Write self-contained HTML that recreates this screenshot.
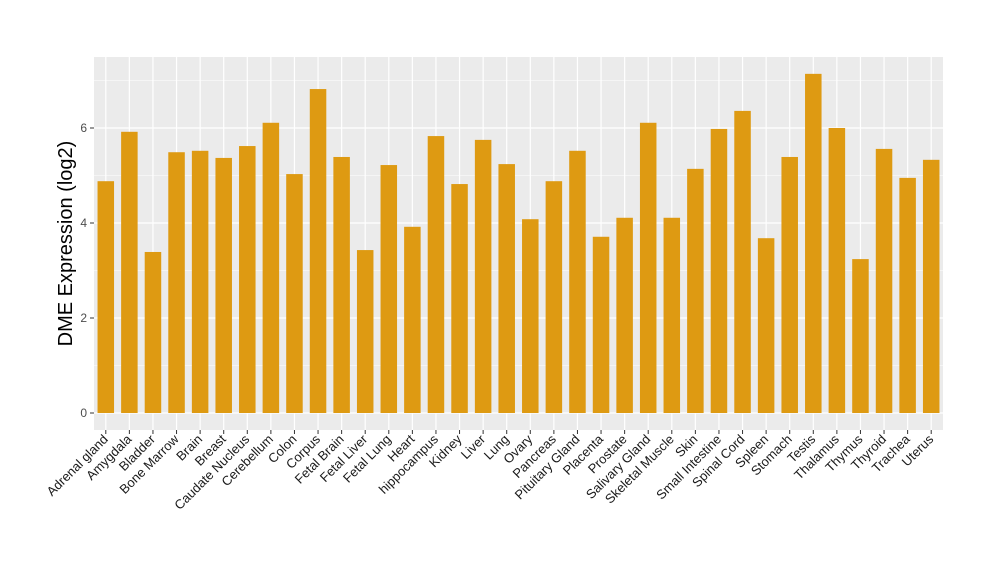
<!DOCTYPE html>
<html><head><meta charset="utf-8"><style>
body{margin:0;background:#fff;font-family:"Liberation Sans",sans-serif}
</style></head><body>
<svg id="c" width="1000" height="580" xmlns="http://www.w3.org/2000/svg"></svg>
<script>
const categories=["Adrenal gland","Amygdala","Bladder","Bone Marrow","Brain","Breast","Caudate Nucleus","Cerebellum","Colon","Corpus","Fetal Brain","Fetal Liver","Fetal Lung","Heart","hippocampus","Kidney","Liver","Lung","Ovary","Pancreas","Pituitary Gland","Placenta","Prostate","Salivary Gland","Skeletal Muscle","Skin","Small Intestine","Spinal Cord","Spleen","Stomach","Testis","Thalamus","Thymus","Thyroid","Trachea","Uterus"];
const values=[4.88,5.92,3.39,5.49,5.52,5.37,5.62,6.11,5.03,6.82,5.39,3.43,5.22,3.92,5.83,4.82,5.75,5.24,4.08,4.88,5.52,3.71,4.11,6.11,4.11,5.14,5.98,6.36,3.68,5.39,7.14,6.0,3.24,5.56,4.95,5.33];
const yTicks=[0,2,4,6];
const svg=document.getElementById('c');
const NS='http://www.w3.org/2000/svg';
const L=94,R=943,T=57,B=430;
const y=v=>413-v*47.5;
const step=(R-L)/categories.length;
const x=i=>L+step*(i+0.5);
function mk(t,a,p){const e=document.createElementNS(NS,t);for(const k in a)e.setAttribute(k,a[k]);(p||svg).appendChild(e);return e;}
const bg=mk('rect',{x:L,y:T,width:R-L,height:B-T,fill:'#EBEBEB'});


for(let v=1;v<=7;v+=2){mk('line',{x1:L,x2:R,y1:y(v),y2:y(v),stroke:'#fff','stroke-width':0.6});}
yTicks.forEach(v=>{
 mk('line',{x1:L,x2:R,y1:y(v),y2:y(v),stroke:'#fff','stroke-width':1.2});
 mk('line',{x1:L-4,x2:L,y1:y(v),y2:y(v),stroke:'#333','stroke-width':1});
 const t=mk('text',{x:L-7,y:y(v)+4,'text-anchor':'end','font-size':12,fill:'#4d4d4d'});t.textContent=v;
 
 
});
categories.forEach((c,i)=>{
 mk('line',{x1:x(i),x2:x(i),y1:T,y2:B,stroke:'#fff','stroke-width':1.2});
});
categories.forEach((c,i)=>{
 const bw=step*0.7;
 const r=mk('rect',{x:x(i)-bw/2,y:y(values[i]),width:bw,height:y(0)-y(values[i]),fill:'#DE9A12'});
 
 
 mk('line',{x1:x(i),x2:x(i),y1:B,y2:B+4,stroke:'#333','stroke-width':1});
 const t=mk('text',{x:x(i)+3,y:B+10,'text-anchor':'end','font-size':13,fill:'#1a1a1a',transform:`rotate(-45 ${x(i)+3} ${B+10})`});
 t.textContent=c;
 
 
});
const yt=mk('text',{x:72,y:(T+B)/2,'text-anchor':'middle','font-size':20,fill:'#000',transform:`rotate(-90 72 ${(T+B)/2})`});
yt.textContent='DME Expression (log2)';


</script>
</body></html>
